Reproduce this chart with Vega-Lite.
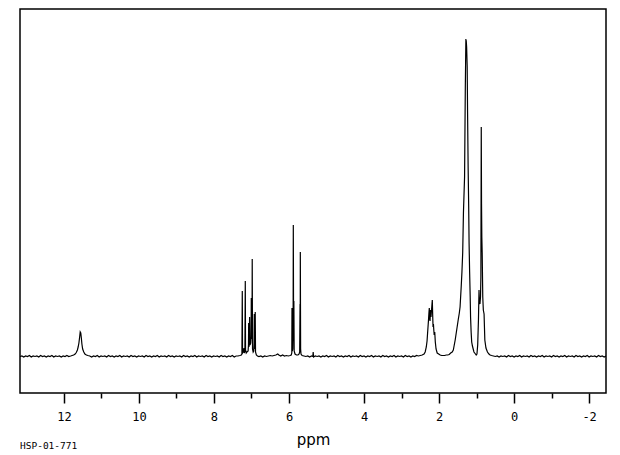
{
 "$schema": "https://vega.github.io/schema/vega-lite/v6.json",
 "width": 586, "height": 384,
 "padding": {"left": 20, "top": 9, "right": 14, "bottom": 5},
 "background": "white",
 "view": {"stroke": "black", "strokeWidth": 1.5},
 "config": {"font": "DejaVu Sans Mono"},
 "title": {"text": "HSP-01-771", "orient": "bottom", "anchor": "start", "fontSize": 9.5, "fontWeight": "normal", "font": "DejaVu Sans Mono", "color": "black", "offset": -6},
 "data": {"values": [
{"ppm":13.17,"i":0.5},{"ppm":13.12,"i":1},{"ppm":13.07,"i":0},{"ppm":13.02,"i":1},{"ppm":12.97,"i":0.5},{"ppm":12.92,"i":1.5},{"ppm":12.87,"i":0},{"ppm":12.82,"i":1},{"ppm":12.77,"i":0.5},{"ppm":12.72,"i":1},{"ppm":12.67,"i":0},{"ppm":12.62,"i":1.5},{"ppm":12.57,"i":0.5},{"ppm":12.52,"i":1},{"ppm":12.47,"i":0},{"ppm":12.42,"i":1},{"ppm":12.37,"i":0.5},{"ppm":12.32,"i":1.5},{"ppm":12.27,"i":0},{"ppm":12.22,"i":1},{"ppm":12.17,"i":0.5},{"ppm":12.12,"i":1},{"ppm":12.07,"i":0},{"ppm":12.02,"i":1},{"ppm":11.97,"i":0.5},{"ppm":11.92,"i":1.5},{"ppm":11.87,"i":0.5},{"ppm":11.82,"i":1},
{"ppm":11.78,"i":1.5},{"ppm":11.74,"i":2},{"ppm":11.70,"i":3},{"ppm":11.67,"i":4.5},{"ppm":11.64,"i":7},{"ppm":11.62,"i":10},{"ppm":11.60,"i":14},{"ppm":11.58,"i":20},{"ppm":11.565,"i":25},{"ppm":11.55,"i":24},{"ppm":11.535,"i":19},{"ppm":11.52,"i":13},{"ppm":11.50,"i":8},{"ppm":11.47,"i":5},{"ppm":11.44,"i":3},{"ppm":11.40,"i":2},{"ppm":11.36,"i":1.5},{"ppm":11.31,"i":1},
{"ppm":11.26,"i":0},{"ppm":11.21,"i":1},{"ppm":11.16,"i":0.5},{"ppm":11.11,"i":1.5},{"ppm":11.06,"i":0},{"ppm":11.01,"i":1},{"ppm":10.96,"i":0.5},{"ppm":10.91,"i":1},{"ppm":10.86,"i":0},{"ppm":10.81,"i":1.5},{"ppm":10.76,"i":0.5},{"ppm":10.71,"i":1},{"ppm":10.66,"i":0},{"ppm":10.61,"i":1},{"ppm":10.56,"i":0.5},{"ppm":10.51,"i":1.5},{"ppm":10.46,"i":0},{"ppm":10.41,"i":1},{"ppm":10.36,"i":0.5},{"ppm":10.31,"i":1},{"ppm":10.26,"i":0},{"ppm":10.21,"i":1.5},{"ppm":10.16,"i":0.5},{"ppm":10.11,"i":1},{"ppm":10.06,"i":0},{"ppm":10.01,"i":1},
{"ppm":9.96,"i":0.5},{"ppm":9.91,"i":1},{"ppm":9.86,"i":0},{"ppm":9.81,"i":1.5},{"ppm":9.76,"i":0.5},{"ppm":9.71,"i":1},{"ppm":9.66,"i":0},{"ppm":9.61,"i":1},{"ppm":9.56,"i":0.5},{"ppm":9.51,"i":1.5},{"ppm":9.46,"i":0},{"ppm":9.41,"i":1},{"ppm":9.36,"i":0.5},{"ppm":9.31,"i":1},{"ppm":9.26,"i":0},{"ppm":9.21,"i":1.5},{"ppm":9.16,"i":0.5},{"ppm":9.11,"i":1},{"ppm":9.06,"i":0},{"ppm":9.01,"i":1},
{"ppm":8.96,"i":0.5},{"ppm":8.91,"i":1},{"ppm":8.86,"i":0},{"ppm":8.81,"i":1.5},{"ppm":8.76,"i":0.5},{"ppm":8.71,"i":1},{"ppm":8.66,"i":0},{"ppm":8.61,"i":1},{"ppm":8.56,"i":0.5},{"ppm":8.51,"i":1.5},{"ppm":8.46,"i":0},{"ppm":8.41,"i":1},{"ppm":8.36,"i":0.5},{"ppm":8.31,"i":1},{"ppm":8.26,"i":0},{"ppm":8.21,"i":1.5},{"ppm":8.16,"i":0.5},{"ppm":8.11,"i":1},{"ppm":8.06,"i":0},{"ppm":8.01,"i":1},
{"ppm":7.96,"i":0.5},{"ppm":7.91,"i":1},{"ppm":7.86,"i":0},{"ppm":7.81,"i":1.5},{"ppm":7.76,"i":0.5},{"ppm":7.71,"i":1},{"ppm":7.66,"i":0},{"ppm":7.61,"i":1},{"ppm":7.56,"i":0.5},{"ppm":7.51,"i":1.5},{"ppm":7.46,"i":0},{"ppm":7.41,"i":1},{"ppm":7.36,"i":1},{"ppm":7.31,"i":1.5},{"ppm":7.27,"i":2},
{"ppm":7.255,"i":3},{"ppm":7.245,"i":66},{"ppm":7.238,"i":4},{"ppm":7.22,"i":5},{"ppm":7.2,"i":9},{"ppm":7.19,"i":4},{"ppm":7.175,"i":6},{"ppm":7.165,"i":76},{"ppm":7.158,"i":7},{"ppm":7.14,"i":4},{"ppm":7.12,"i":5},{"ppm":7.09,"i":6},{"ppm":7.08,"i":12},{"ppm":7.075,"i":34},{"ppm":7.068,"i":10},{"ppm":7.06,"i":12},{"ppm":7.05,"i":40},{"ppm":7.04,"i":12},{"ppm":7.02,"i":14},{"ppm":7.01,"i":20},{"ppm":7.005,"i":59},{"ppm":6.995,"i":18},{"ppm":6.985,"i":30},{"ppm":6.98,"i":98},{"ppm":6.972,"i":8},{"ppm":6.955,"i":5},{"ppm":6.94,"i":6},{"ppm":6.93,"i":14},{"ppm":6.925,"i":43},{"ppm":6.918,"i":8},{"ppm":6.908,"i":12},{"ppm":6.90,"i":45},{"ppm":6.892,"i":5},{"ppm":6.87,"i":2},{"ppm":6.84,"i":1},
{"ppm":6.80,"i":0.5},{"ppm":6.75,"i":1},{"ppm":6.70,"i":0},{"ppm":6.65,"i":1},{"ppm":6.60,"i":0.5},{"ppm":6.55,"i":1},{"ppm":6.50,"i":1.5},{"ppm":6.45,"i":1},{"ppm":6.40,"i":1.5},{"ppm":6.35,"i":2},{"ppm":6.30,"i":3},{"ppm":6.27,"i":2},{"ppm":6.22,"i":1},{"ppm":6.17,"i":2},{"ppm":6.12,"i":1},{"ppm":6.07,"i":1.5},{"ppm":6.02,"i":1},{"ppm":5.97,"i":1.5},
{"ppm":5.94,"i":2},{"ppm":5.925,"i":4},{"ppm":5.92,"i":49},{"ppm":5.912,"i":6},{"ppm":5.90,"i":8},{"ppm":5.89,"i":30},{"ppm":5.885,"i":132},{"ppm":5.878,"i":40},{"ppm":5.87,"i":56},{"ppm":5.862,"i":6},{"ppm":5.84,"i":3},{"ppm":5.80,"i":2},{"ppm":5.76,"i":2},{"ppm":5.73,"i":3},{"ppm":5.715,"i":5},{"ppm":5.705,"i":53},{"ppm":5.70,"i":20},{"ppm":5.698,"i":105},{"ppm":5.69,"i":8},{"ppm":5.68,"i":3},{"ppm":5.65,"i":1.5},{"ppm":5.60,"i":1},{"ppm":5.55,"i":0.5},{"ppm":5.50,"i":1},{"ppm":5.45,"i":0},{"ppm":5.40,"i":1},{"ppm":5.365,"i":0.5},{"ppm":5.355,"i":5},{"ppm":5.345,"i":0},{"ppm":5.30,"i":1},{"ppm":5.25,"i":0.5},{"ppm":5.20,"i":1},
{"ppm":5.15,"i":0},{"ppm":5.10,"i":1},{"ppm":5.05,"i":0.5},{"ppm":5.00,"i":1.5},{"ppm":4.95,"i":0},{"ppm":4.90,"i":1},{"ppm":4.85,"i":0.5},{"ppm":4.80,"i":1},{"ppm":4.75,"i":0},{"ppm":4.70,"i":1.5},{"ppm":4.65,"i":0.5},{"ppm":4.60,"i":1},{"ppm":4.55,"i":0},{"ppm":4.50,"i":1},{"ppm":4.45,"i":0.5},{"ppm":4.40,"i":1.5},{"ppm":4.35,"i":0},{"ppm":4.30,"i":1},{"ppm":4.25,"i":0.5},{"ppm":4.20,"i":1},{"ppm":4.15,"i":0},{"ppm":4.10,"i":1.5},{"ppm":4.05,"i":0.5},{"ppm":4.00,"i":1},
{"ppm":3.95,"i":0},{"ppm":3.90,"i":1},{"ppm":3.85,"i":0.5},{"ppm":3.80,"i":1.5},{"ppm":3.75,"i":0},{"ppm":3.70,"i":1},{"ppm":3.65,"i":0.5},{"ppm":3.60,"i":1},{"ppm":3.55,"i":0},{"ppm":3.50,"i":1.5},{"ppm":3.45,"i":0.5},{"ppm":3.40,"i":1},{"ppm":3.35,"i":0},{"ppm":3.30,"i":1},{"ppm":3.25,"i":0.5},{"ppm":3.20,"i":1.5},{"ppm":3.15,"i":0},{"ppm":3.10,"i":1},{"ppm":3.05,"i":0.5},{"ppm":3.00,"i":1},
{"ppm":2.95,"i":0},{"ppm":2.90,"i":1.5},{"ppm":2.85,"i":0.5},{"ppm":2.80,"i":1},{"ppm":2.75,"i":0},{"ppm":2.70,"i":1},{"ppm":2.65,"i":0.5},{"ppm":2.60,"i":1.5},{"ppm":2.55,"i":1},{"ppm":2.50,"i":1.5},{"ppm":2.45,"i":2},{"ppm":2.40,"i":3},{"ppm":2.37,"i":5},{"ppm":2.34,"i":10},{"ppm":2.32,"i":16},{"ppm":2.30,"i":27},{"ppm":2.285,"i":35},{"ppm":2.27,"i":44},{"ppm":2.26,"i":49},{"ppm":2.25,"i":38},{"ppm":2.24,"i":36},{"ppm":2.23,"i":47},{"ppm":2.215,"i":40},{"ppm":2.205,"i":45},{"ppm":2.19,"i":52},{"ppm":2.18,"i":57},{"ppm":2.17,"i":42},{"ppm":2.16,"i":30},{"ppm":2.15,"i":33},{"ppm":2.14,"i":27},{"ppm":2.13,"i":22},{"ppm":2.115,"i":25},{"ppm":2.10,"i":15},{"ppm":2.08,"i":8},{"ppm":2.05,"i":4},{"ppm":2.01,"i":3},{"ppm":1.97,"i":2},{"ppm":1.93,"i":1.5},{"ppm":1.89,"i":1.5},{"ppm":1.85,"i":1.5},{"ppm":1.81,"i":2},{"ppm":1.77,"i":2},{"ppm":1.73,"i":2.5},{"ppm":1.69,"i":4},{"ppm":1.65,"i":5},{"ppm":1.62,"i":7},{"ppm":1.57,"i":17},{"ppm":1.53,"i":27},{"ppm":1.49,"i":37},{"ppm":1.46,"i":44},{"ppm":1.44,"i":50},{"ppm":1.41,"i":70},{"ppm":1.39,"i":85},{"ppm":1.37,"i":104},{"ppm":1.35,"i":144},{"ppm":1.32,"i":180},{"ppm":1.30,"i":270},{"ppm":1.285,"i":318},{"ppm":1.275,"i":316},{"ppm":1.265,"i":310},{"ppm":1.25,"i":290},{"ppm":1.24,"i":245},{"ppm":1.225,"i":190},{"ppm":1.21,"i":150},{"ppm":1.20,"i":115},{"ppm":1.185,"i":85},{"ppm":1.17,"i":60},{"ppm":1.16,"i":40},{"ppm":1.145,"i":25},{"ppm":1.13,"i":15},{"ppm":1.11,"i":11},{"ppm":1.09,"i":8},{"ppm":1.07,"i":5},{"ppm":1.05,"i":4},{"ppm":1.03,"i":3},{"ppm":1.01,"i":2},{"ppm":0.99,"i":3},{"ppm":0.97,"i":12},{"ppm":0.95,"i":37},{"ppm":0.935,"i":67},{"ppm":0.925,"i":55},{"ppm":0.91,"i":53},{"ppm":0.895,"i":60},{"ppm":0.885,"i":80},{"ppm":0.875,"i":230},{"ppm":0.868,"i":154},{"ppm":0.86,"i":120},{"ppm":0.85,"i":104},{"ppm":0.835,"i":60},{"ppm":0.82,"i":47},{"ppm":0.80,"i":43},{"ppm":0.78,"i":17},{"ppm":0.75,"i":9},{"ppm":0.71,"i":5},{"ppm":0.67,"i":3},{"ppm":0.64,"i":2},{"ppm":0.60,"i":1.5},{"ppm":0.55,"i":1},{"ppm":0.50,"i":0.5},{"ppm":0.45,"i":1},
{"ppm":0.40,"i":0},{"ppm":0.35,"i":1},{"ppm":0.30,"i":0.5},{"ppm":0.25,"i":1},{"ppm":0.20,"i":0},{"ppm":0.15,"i":1.5},{"ppm":0.10,"i":0.5},{"ppm":0.05,"i":1},{"ppm":0.00,"i":0},{"ppm":-0.05,"i":1},{"ppm":-0.10,"i":0.5},{"ppm":-0.15,"i":1.5},{"ppm":-0.20,"i":0},{"ppm":-0.25,"i":1},{"ppm":-0.30,"i":0.5},{"ppm":-0.35,"i":1},{"ppm":-0.40,"i":0},{"ppm":-0.45,"i":1.5},{"ppm":-0.50,"i":0.5},{"ppm":-0.55,"i":1},{"ppm":-0.60,"i":0},{"ppm":-0.65,"i":1},{"ppm":-0.70,"i":0.5},{"ppm":-0.75,"i":1.5},{"ppm":-0.80,"i":0},{"ppm":-0.85,"i":1},{"ppm":-0.90,"i":0.5},{"ppm":-0.95,"i":1},{"ppm":-1.00,"i":0},{"ppm":-1.05,"i":1.5},{"ppm":-1.10,"i":0.5},{"ppm":-1.15,"i":1},{"ppm":-1.20,"i":0},{"ppm":-1.25,"i":1},{"ppm":-1.30,"i":0.5},{"ppm":-1.35,"i":1.5},{"ppm":-1.40,"i":0},{"ppm":-1.45,"i":1},{"ppm":-1.50,"i":0.5},{"ppm":-1.55,"i":1},{"ppm":-1.60,"i":0},{"ppm":-1.65,"i":1.5},{"ppm":-1.70,"i":0.5},{"ppm":-1.75,"i":1},{"ppm":-1.80,"i":0},{"ppm":-1.85,"i":1},{"ppm":-1.90,"i":0.5},{"ppm":-1.95,"i":1.5},{"ppm":-2.00,"i":0},{"ppm":-2.05,"i":1},{"ppm":-2.10,"i":0.5},{"ppm":-2.15,"i":1},{"ppm":-2.20,"i":0},{"ppm":-2.25,"i":1.5},{"ppm":-2.30,"i":0.5},{"ppm":-2.35,"i":1},{"ppm":-2.40,"i":0},{"ppm":-2.45,"i":1}
 ]},
 "mark": {"type": "line", "color": "black", "strokeWidth": 1.2, "clip": true},
 "encoding": {
  "x": {"field": "ppm", "type": "quantitative",
   "scale": {"domain": [-2.45, 13.17], "reverse": true, "nice": false, "zero": false},
   "axis": {"values": [-2,-1,0,1,2,3,4,5,6,7,8,9,10,11,12], "domain": false, "grid": false,
    "tickColor": "black", "tickWidth": 1.5,
    "tickSize": {"condition": {"test": "datum.value % 2 === 0", "value": 10}, "value": 5},
    "labelExpr": "datum.value % 2 === 0 ? '' + datum.value : ''",
    "labelFont": "DejaVu Sans Mono", "labelFontSize": 12, "labelColor": "black", "labelPadding": 8,
    "title": "ppm", "titleFont": "DejaVu Sans", "titleFontSize": 15, "titleFontWeight": "normal", "titleColor": "black", "titlePadding": 10}},
  "y": {"field": "i", "type": "quantitative", "scale": {"domain": [-36, 348], "nice": false, "zero": false}, "axis": null}
 }
}
